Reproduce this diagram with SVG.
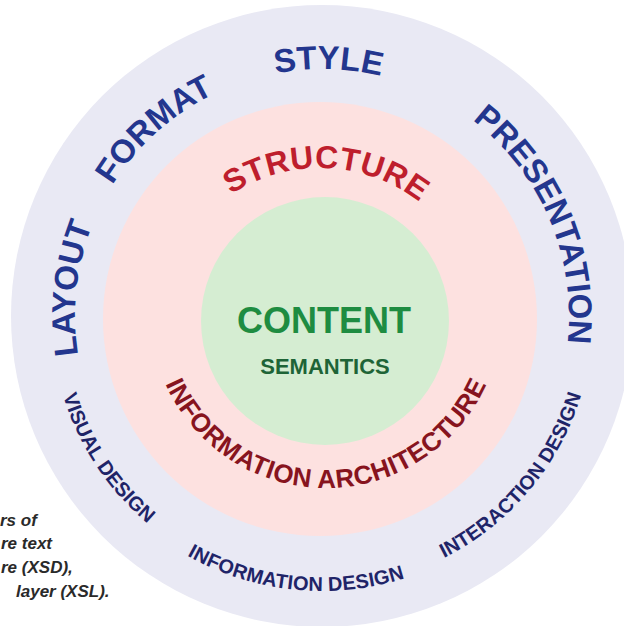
<svg xmlns="http://www.w3.org/2000/svg" xmlns:xlink="http://www.w3.org/1999/xlink" width="624" height="626" viewBox="0 0 624 626">
  <style>
    .t { font-family: "Liberation Sans", Arial, Helvetica, sans-serif; font-weight: bold; }
    .up { fill: #23368e; font-size: 33px; }
    .low { fill: #1f2468; font-size: 20px; }
    .struct { fill: #be1e2d; font-size: 32px; letter-spacing: 0.5px; }
    .ia { fill: #87141e; font-size: 26px; letter-spacing: 0.5px; }
    .cap { fill: #2a2a2a; font-size: 17px; font-style: italic; }
  </style>
  <defs>
    <path id="outerTop" d="M322,563 A247,247 0 0,1 322,69 A247,247 0 0,1 322,563"/>
    <path id="outerLow" d="M322,45 A271,271 0 0,0 322,587 A271,271 0 0,0 322,45"/>
    <path id="structArc" d="M158,330 A162,162 0 0,1 482,330"/>
    <path id="iaArc" d="M150,312 A176,176 0 0,0 502,312"/>
  </defs>
  <rect width="624" height="626" fill="#ffffff"/>

  <g id="outer-ring">
    <circle cx="322" cy="316" r="311" fill="#e9e9f4"/>
    <text class="t up"><textPath xlink:href="#outerTop" href="#outerTop" startOffset="415" text-anchor="middle">LAYOUT</textPath></text>
    <text class="t up"><textPath xlink:href="#outerTop" href="#outerTop" startOffset="595" text-anchor="middle">FORMAT</textPath></text>
    <text class="t up"><textPath xlink:href="#outerTop" href="#outerTop" startOffset="782" text-anchor="middle">STYLE</textPath></text>
    <text class="t up"><textPath xlink:href="#outerTop" href="#outerTop" startOffset="1064" text-anchor="middle">PRESENTATION</textPath></text>
    <text class="t low"><textPath xlink:href="#outerLow" href="#outerLow" startOffset="584" text-anchor="middle">VISUAL DESIGN</textPath></text>
    <text class="t low" dy="4"><textPath xlink:href="#outerLow" href="#outerLow" startOffset="823" text-anchor="middle">INFORMATION DESIGN</textPath></text>
    <text class="t low"><textPath xlink:href="#outerLow" href="#outerLow" startOffset="1087" text-anchor="middle">INTERACTION DESIGN</textPath></text>
  </g>

  <g id="middle-ring">
    <circle cx="320" cy="319" r="217" fill="#fde1e0"/>
    <text class="t struct"><textPath xlink:href="#structArc" href="#structArc" startOffset="261" text-anchor="middle">STRUCTURE</textPath></text>
    <text class="t ia"><textPath xlink:href="#iaArc" href="#iaArc" startOffset="50%" text-anchor="middle">INFORMATION ARCHITECTURE</textPath></text>
  </g>

  <g id="core">
    <circle cx="325" cy="321" r="124" fill="#d5edd2"/>
    <text class="t" x="324" y="333" font-size="36" fill="#1e8c41" text-anchor="middle">CONTENT</text>
    <text class="t" x="325" y="374" font-size="22" fill="#1e6437" text-anchor="middle">SEMANTICS</text>
  </g>

  <g id="caption">
    <text class="t cap" x="0" y="526">rs of</text>
    <text class="t cap" x="1" y="549">re text</text>
    <text class="t cap" x="1" y="573">re (XSD),</text>
    <text class="t cap" x="16" y="597">layer (XSL).</text>
  </g>
</svg>
